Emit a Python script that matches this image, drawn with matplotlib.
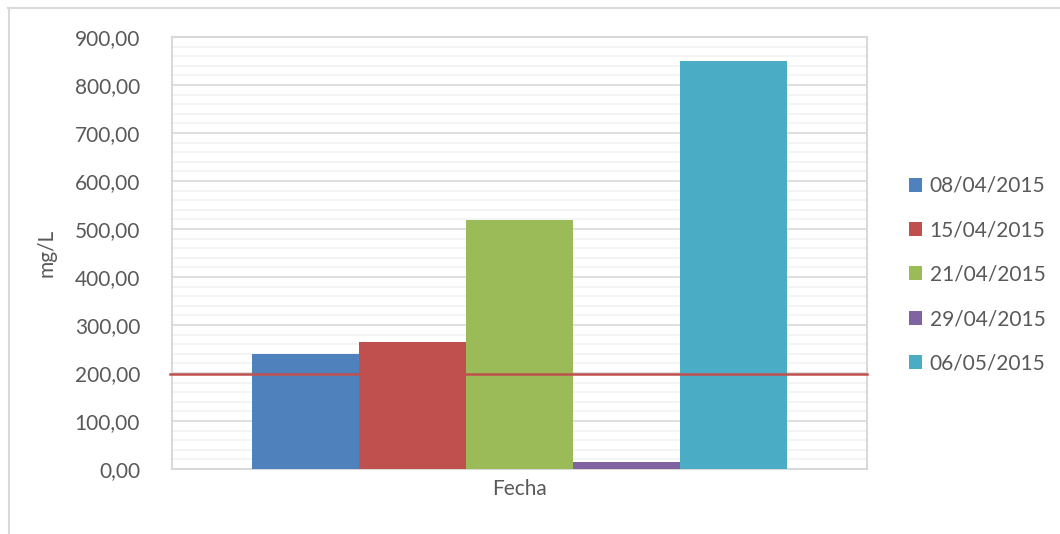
import matplotlib
matplotlib.use("Agg")
import matplotlib.pyplot as plt
from matplotlib.ticker import MultipleLocator, FuncFormatter
from matplotlib.patches import Patch
from matplotlib.lines import Line2D

# values (mg/L per sampling date)
fechas = ["08/04/2015", "15/04/2015", "21/04/2015", "29/04/2015", "06/05/2015"]
valores = [240, 265, 518, 15, 850]
colores = ["#4F81BD", "#C0504D", "#9BBB59", "#8064A2", "#4BACC6"]
limite = 197  # reference line

plt.rcParams["font.family"] = ["Lato", "DejaVu Sans"]
txt = "#595959"
fs = 15

fig = plt.figure(figsize=(10.6, 5.34), dpi=100)
ax = fig.add_axes([0.1623, 0.1217, 0.6557, 0.809])

# one category, five bars side by side
n = len(valores)
ancho = 0.77 / n
x0 = -0.77 / 2 + ancho / 2
for i, (v, c) in enumerate(zip(valores, colores)):
    ax.bar(x0 + i * ancho, v, width=ancho, color=c, zorder=3)

ax.axhline(limite, color="#C0504D", lw=1.8, zorder=4, clip_on=False,
           xmin=-0.003, xmax=1.0)

ax.set_xlim(-0.5, 0.5)
ax.set_ylim(0, 900)
ax.yaxis.set_major_locator(MultipleLocator(100))
ax.yaxis.set_minor_locator(MultipleLocator(20))
ax.yaxis.set_major_formatter(FuncFormatter(lambda v, p: f"{v:.2f}".replace(".", ",")))
ax.grid(which="major", axis="y", color="#d9d9d9", lw=1.2, zorder=1)
ax.grid(which="minor", axis="y", color="#f2f2f2", lw=1.2, zorder=0)
ax.tick_params(axis="y", which="both", length=0, pad=23, labelsize=fs, labelcolor=txt)
ax.set_xticks([])
for s in ax.spines.values():
    s.set_color("#d9d9d9")
    s.set_linewidth(1.5)

ax.set_xlabel("Fecha", fontsize=fs, color=txt, labelpad=7)
ax.set_ylabel("mg/L", fontsize=fs, color=txt, labelpad=13)

handles = [Patch(facecolor=c, edgecolor="none") for c in colores]
fig.legend(handles, fechas, loc="upper left", bbox_to_anchor=(0.8475, 0.69),
           frameon=False, fontsize=fs, labelcolor=txt,
           handlelength=0.65, handleheight=0.65, handletextpad=0.35,
           labelspacing=1.17, borderpad=0)

# light outer chart border (top and left visible)
fig.add_artist(Line2D([8 / 1060, 1.0], [1 - 7.5 / 534] * 2, color="#d9d9d9", lw=1.5))
fig.add_artist(Line2D([8.5 / 1060] * 2, [0, 1 - 7.5 / 534], color="#d9d9d9", lw=1.5))

fig.savefig("out.png", dpi=100)
